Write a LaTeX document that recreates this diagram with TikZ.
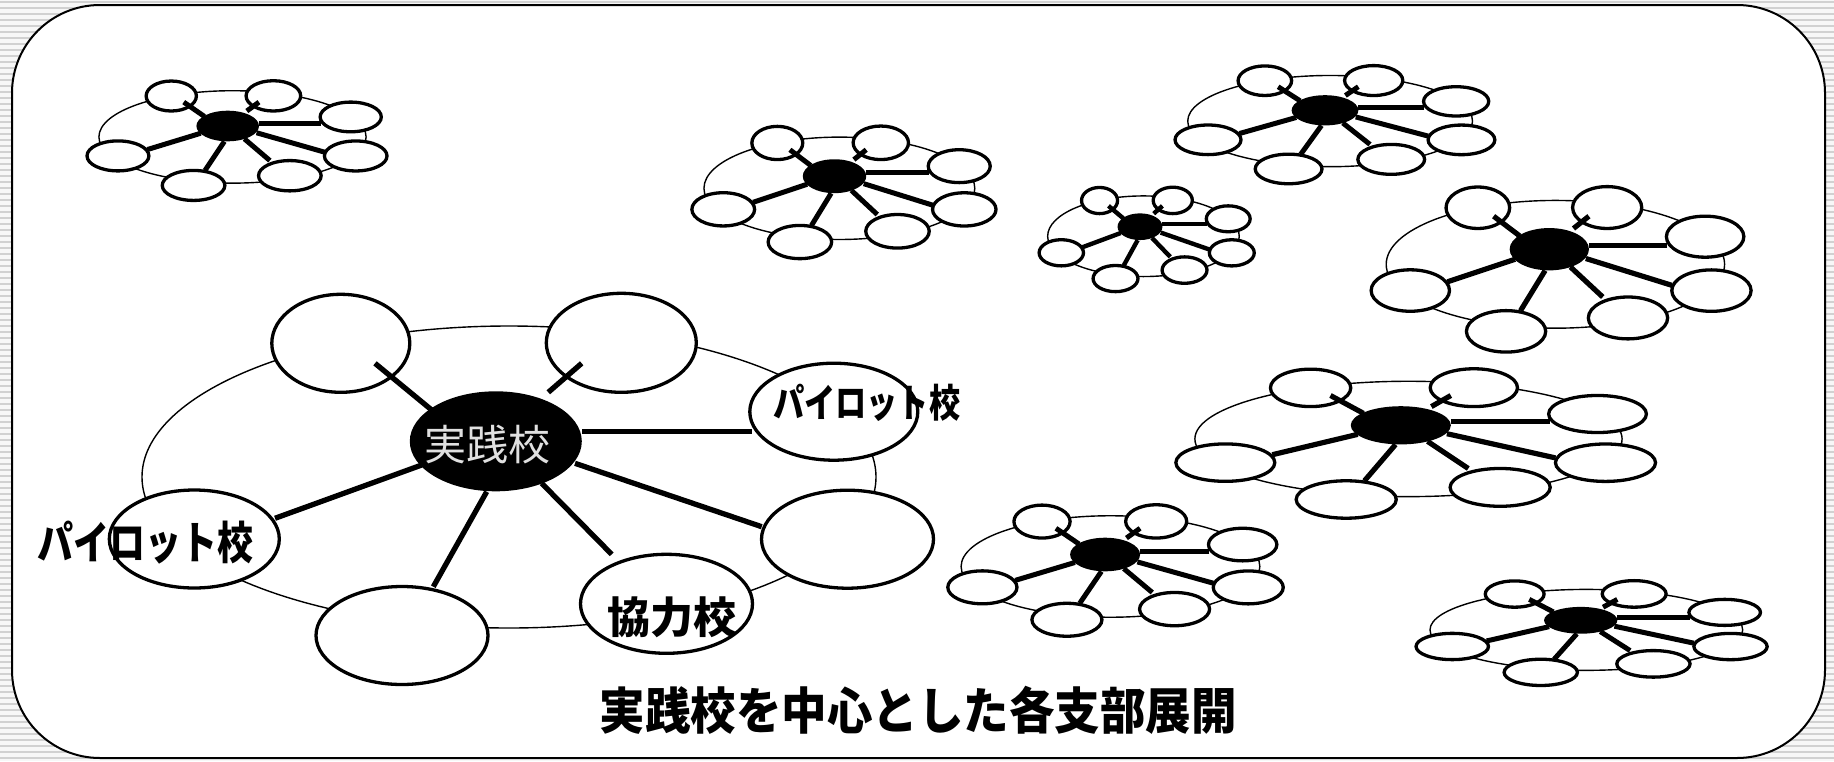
\documentclass[tikz,border=0pt]{standalone}
\usepackage{fontspec}
\usepackage{graphicx}
\usetikzlibrary{shapes.geometric}
\newfontfamily\jp{Noto Sans CJK JP}
\tikzset{
  sat/.style={ellipse, draw=black, fill=white, line width=3.3pt, inner sep=0pt, outer sep=0pt, transform shape},
  hub/.style={ellipse, fill=black, inner sep=0pt, outer sep=0pt, transform shape},
  ringline/.style={ellipse, draw=black, line width=1.4pt, inner sep=0pt, outer sep=0pt, transform shape},
  spoke/.style={line width=#1, line cap=butt},
  lbl/.style={inner sep=0pt, outer sep=0pt, text=black},
}
\newcommand\cluster[6]{%
\begin{scope}[shift={(#2,#3)}, xscale=#4, yscale=#5]
  \node[ringline, minimum width=734pt, minimum height=302pt] (#1-ring) at (13.2,35.7) {};
  \node[sat, minimum width=138pt, minimum height=98pt] (#1-tl) at (-155,-98) {};
  \node[sat, minimum width=150pt, minimum height=99pt] (#1-tr) at (125.5,-98.5) {};
  \node[sat, minimum width=168pt, minimum height=97pt] (#1-ra) at (338,-29.6) {};
  \node[sat, minimum width=172pt, minimum height=98pt] (#1-rb) at (351.7,97.9) {};
  \node[sat, minimum width=172pt, minimum height=99pt] (#1-br) at (170.7,162.5) {};
  \node[sat, minimum width=172pt, minimum height=98pt] (#1-bo) at (-93.8,194.2) {};
  \node[sat, minimum width=170pt, minimum height=98pt] (#1-le) at (-301.5,97.7) {};
  \coordinate (#1-tl-a) at (-120.8,-78);  \coordinate (#1-tl-b) at (-64.1,-31.3);
  \coordinate (#1-tr-a) at (85.9,-78);    \coordinate (#1-tr-b) at (52.5,-49);
  \coordinate (#1-ra-a) at (255.9,-9.6);  \coordinate (#1-ra-b) at (85.9,-9.6);
  \coordinate (#1-rb-a) at (265.9,85.4);  \coordinate (#1-rb-b) at (79.2,22);
  \coordinate (#1-br-a) at (115.9,113);   \coordinate (#1-br-b) at (45.9,42);
  \coordinate (#1-bo-a) at (-62.5,145.4); \coordinate (#1-bo-b) at (-9.1,50.4);
  \coordinate (#1-le-a) at (-220.8,77);   \coordinate (#1-le-b) at (-74.1,23.7);
  \draw[spoke=#6] (#1-tl-a) -- (#1-tl-b);
  \draw[spoke=#6] (#1-tr-a) -- (#1-tr-b);
  \draw[spoke=#6] (#1-ra-a) -- (#1-ra-b);
  \draw[spoke=#6] (#1-rb-a) -- (#1-rb-b);
  \draw[spoke=#6] (#1-br-a) -- (#1-br-b);
  \draw[spoke=#6] (#1-bo-a) -- (#1-bo-b);
  \draw[spoke=#6] (#1-le-a) -- (#1-le-b);
  \node[hub, minimum width=172pt, minimum height=100pt] (#1-hub) at (0,0) {};
\end{scope}}
\begin{document}
\begin{tikzpicture}[x=1pt,y=-1pt]
\useasboundingbox (0,0) rectangle (1834,761);
% striped margin
\fill[black!3] (0,0) rectangle (1834,761);
\foreach \k in {0,...,126} \draw[black!18, line width=2.4pt] (0,{\k*6+2}) -- (1834,{\k*6+2});
% frame
\filldraw[fill=white, draw=black, line width=2pt, rounded corners=88pt] (12,5) rectangle (1825,758);
% small clusters
\cluster{c1}{227.7}{126}{0.364}{0.306}{5pt}
\cluster{c2}{834.5}{176.2}{0.369}{0.339}{5pt}
\cluster{c3}{1140}{226.7}{0.261}{0.267}{4.4pt}
\cluster{c4}{1325}{110.3}{0.388}{0.302}{5pt}
\cluster{c5}{1549.3}{249.2}{0.461}{0.423}{5.2pt}
\cluster{c6}{1400.8}{425.3}{0.582}{0.382}{5.2pt}
\cluster{c7}{1105.1}{554.5}{0.407}{0.336}{5pt}
\cluster{c8}{1580.7}{620.3}{0.426}{0.268}{5pt}
% main cluster
\cluster{big}{495.8}{441.3}{1}{1}{5.3pt}
% labels
\node[lbl, text=black!12, font=\jp\fontsize{42}{42}\selectfont] (hubtext) at (487,445) {実践校};
\node[lbl, font=\jp\bfseries\fontsize{45}{45}\selectfont] (pilotL) at (145,542.5) {\scalebox{0.8}[1]{パイロット校}};
\node[lbl, font=\jp\bfseries\fontsize{39}{39}\selectfont] (pilotR) at (866.7,403) {\scalebox{0.8}[1]{パイロット校}};
\node[lbl, font=\jp\bfseries\fontsize{43}{43}\selectfont] (kyoryoku) at (671.7,617.5) {協力校};
\node[lbl, font=\jp\bfseries\fontsize{50}{50}\selectfont] (title) at (918,710) {\scalebox{0.91}[1]{実践校を中心とした各支部展開}};
\end{tikzpicture}
\end{document}
